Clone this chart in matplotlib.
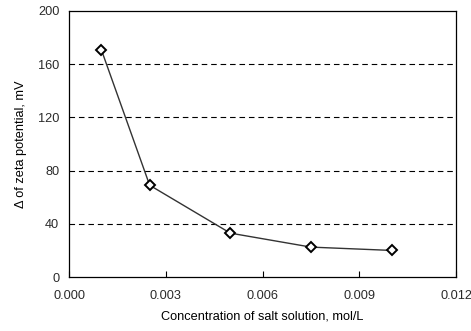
import matplotlib
matplotlib.use("Agg")
import matplotlib.pyplot as plt

# concentration (mol/L) and change of zeta potential (mV)
conc = [0.001, 0.0025, 0.005, 0.0075, 0.01]
delta_zeta = [171, 69, 33, 22.5, 20]

xticks = [0.000, 0.003, 0.006, 0.009, 0.012]
yticks = [0, 40, 80, 120, 160, 200]

plt.rcParams['font.family'] = ['Liberation Sans', 'DejaVu Sans']
plt.rcParams['font.size'] = 9.2
plt.rcParams['text.color'] = '#2a2a2a'
plt.rcParams['xtick.labelcolor'] = '#2a2a2a'
plt.rcParams['ytick.labelcolor'] = '#2a2a2a'

fig = plt.figure(figsize=(4.71, 3.31), dpi=100)
ax = fig.add_axes([0.1465, 0.163, 0.822, 0.804])

for y in yticks[1:-1]:
    ax.axhline(y, color='black', linestyle=(0, (5, 3.5)), linewidth=0.8, zorder=1)

ax.plot(conc, delta_zeta, color='#333333', linewidth=1.0, marker='D', markersize=5,
        markerfacecolor='white', markeredgecolor='black', markeredgewidth=1.4, zorder=3)

ax.set_xlim(0, 0.012)
ax.set_ylim(0, 200)
ax.set_xticks(xticks)
ax.set_xticklabels([f'{v:.3f}' for v in xticks])
ax.set_yticks(yticks)
ax.tick_params(axis='x', direction='in', length=4, width=0.8, pad=9.5)
ax.tick_params(axis='y', length=0, pad=7)
for s in ax.spines.values():
    s.set_linewidth(0.9)

ax.set_xlabel('Concentration of salt solution, mol/L', labelpad=6)
ax.set_ylabel('Δ of zeta potential, mV', labelpad=7.5)

fig.savefig('out.png', dpi=100)
